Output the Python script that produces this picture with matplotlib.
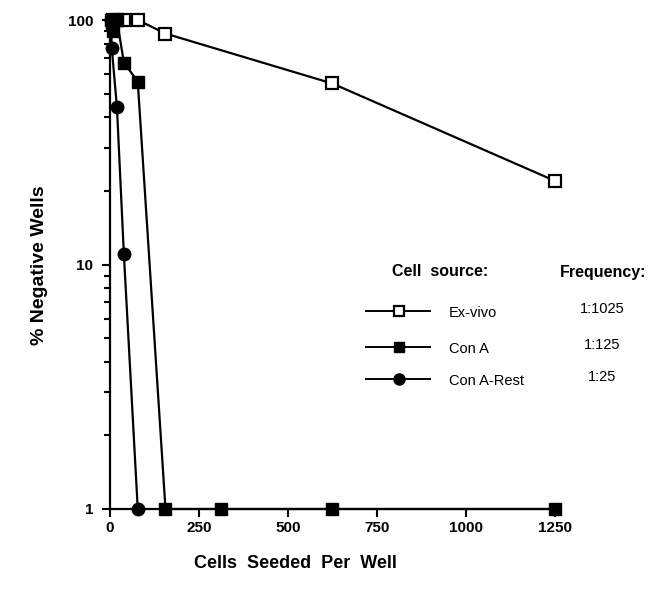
import matplotlib
matplotlib.use("Agg")
import matplotlib.pyplot as plt
from matplotlib.lines import Line2D
from matplotlib.ticker import FixedLocator, NullFormatter, FixedFormatter

# ---- data ----
exvivo_x = [9.8, 19.5, 39, 78, 156, 625, 1250]
exvivo_y = [100, 100, 100, 100, 88, 55, 22]

cona_x = [2.4, 4.9, 9.8, 19.5, 39, 78, 156, 312.5, 625, 1250]
cona_y = [100, 96, 90, 100, 67, 56, 1, 1, 1, 1]

conarest_x = [2.4, 4.9, 19.5, 39, 78]
conarest_y = [100, 77, 44, 11, 1]

series_names = ["Ex-vivo", "Con A", "Con A-Rest"]
frequencies = ["1:1025", "1:125", "1:25"]

x_ticks = [0, 250, 500, 750, 1000, 1250]
y_ticks = [1, 10, 100]
y_ticklabels = ["1", "10", "100"]

plt.rcParams['font.family'] = ['Liberation Sans', 'DejaVu Sans']

W, H = 654, 594
fig = plt.figure(figsize=(W / 100, H / 100), dpi=100)
ax = fig.add_axes([110 / W, 1 - 509 / H, 450 / W, (509 - 20) / H])

lw = 1.6
ms = 8.5
ax.plot(exvivo_x, exvivo_y, color='black', lw=lw, marker='s', ms=ms,
        mfc='white', mec='black', mew=1.6, clip_on=False, zorder=3)
ax.plot(cona_x, cona_y, color='black', lw=lw, marker='s', ms=ms,
        mfc='black', mec='black', clip_on=False, zorder=4)
ax.plot(conarest_x, conarest_y, color='black', lw=lw, marker='o', ms=ms + 0.5,
        mfc='black', mec='black', clip_on=False, zorder=5)

ax.set_yscale('log')
ax.set_xlim(0, 1265)
ax.set_ylim(1, 100)

ax.spines['top'].set_visible(False)
ax.spines['right'].set_visible(False)
ax.spines['left'].set_linewidth(1.6)
ax.spines['bottom'].set_linewidth(1.6)

ax.xaxis.set_major_locator(FixedLocator(x_ticks))
ax.set_xticklabels([str(t) for t in x_ticks])
ax.yaxis.set_major_locator(FixedLocator(y_ticks))
ax.yaxis.set_major_formatter(FixedFormatter(y_ticklabels))
ax.yaxis.set_minor_locator(FixedLocator([m * d for d in (1, 10) for m in range(2, 10)]))
ax.yaxis.set_minor_formatter(NullFormatter())

ax.tick_params(axis='both', which='major', direction='out', length=6, width=1.5,
               labelsize=11, pad=6)
ax.tick_params(axis='x', which='major', pad=3)
ax.tick_params(axis='y', which='minor', direction='out', length=4, width=1.5)
for lab in ax.get_xticklabels() + ax.get_yticklabels():
    lab.set_fontweight('bold')

fig.text(40 / W, 1 - 265 / H, "% Negative Wells", rotation=90, ha='center',
         va='center', fontsize=14, fontweight='bold')
fig.text(295 / W, 1 - 563 / H, "Cells  Seeded  Per  Well", ha='center',
         va='center', fontsize=13, fontweight='bold')

# ---- custom legend ----
def P(px, py):
    return px / W, 1 - py / H

fig.text(*P(440, 272), "Cell  source:", ha='center', va='center', fontsize=11.5,
         fontweight='bold')
fig.text(*P(603, 272), "Frequency:", ha='center', va='center', fontsize=11.5,
         fontweight='bold')

leg_rows = [311, 347, 379]
leg_styles = [
    dict(marker='s', mfc='white', mec='black', mew=1.6, ms=7.5),
    dict(marker='s', mfc='black', mec='black', ms=7.5),
    dict(marker='o', mfc='black', mec='black', ms=8),
]
for name, freq, py, st in zip(series_names, frequencies, leg_rows, leg_styles):
    x0, y0 = P(366, py)
    x1, _ = P(430, py)
    xm, _ = P(399, py)
    fig.add_artist(Line2D([x0, x1], [y0, y0], color='black', lw=1.4,
                          transform=fig.transFigure))
    fig.add_artist(Line2D([xm], [y0], color='black', lw=0,
                          transform=fig.transFigure, **st))
    fig.text(*P(449, py + 2), name, ha='left', va='center', fontsize=10.5)
    fig.text(*P(602, py - 2), freq, ha='center', va='center', fontsize=10.5)

fig.savefig("out.png", dpi=100)
